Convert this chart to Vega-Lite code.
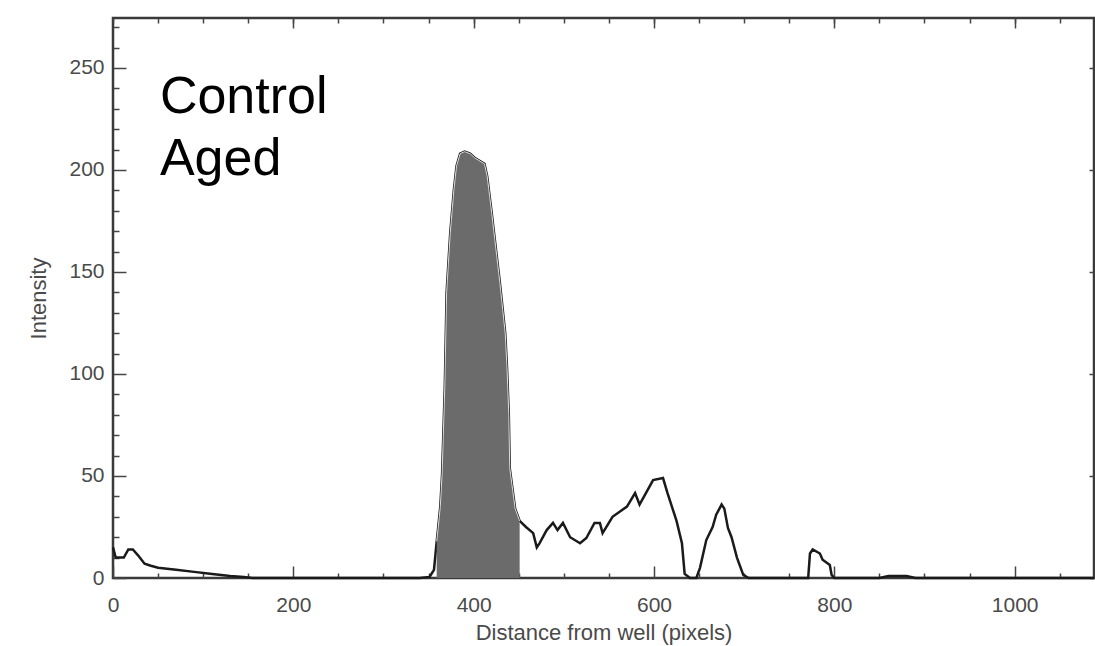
{
  "$schema": "https://vega.github.io/schema/vega-lite/v6.json",
  "width": 981,
  "height": 560,
  "autosize": {"type": "none"},
  "padding": {"left": 113, "top": 18, "right": 1, "bottom": 68},
  "background": "white",
  "config": {
    "view": {"stroke": "#3a3a3a", "strokeWidth": 2.5},
    "axis": {
      "grid": false,
      "domain": false,
      "tickColor": "#444444",
      "tickWidth": 1.5,
      "labelFont": "Liberation Sans",
      "labelColor": "#4a4a4a",
      "labelFontSize": 21,
      "labelFlush": false,
      "titleFont": "Liberation Sans",
      "titleColor": "#4a4a4a",
      "titleFontSize": 22,
      "titleFontWeight": "normal"
    }
  },
  "datasets": {
    "profile": [
      {"x": 0, "y": 15}, {"x": 3, "y": 10}, {"x": 12, "y": 10}, {"x": 17, "y": 14}, {"x": 22, "y": 14},
      {"x": 28, "y": 11}, {"x": 35, "y": 7}, {"x": 42, "y": 6}, {"x": 50, "y": 5}, {"x": 70, "y": 4},
      {"x": 90, "y": 3}, {"x": 110, "y": 2}, {"x": 130, "y": 1}, {"x": 145, "y": 0.5}, {"x": 155, "y": 0},
      {"x": 200, "y": 0}, {"x": 250, "y": 0}, {"x": 300, "y": 0}, {"x": 340, "y": 0}, {"x": 351, "y": 0.5},
      {"x": 356, "y": 4}, {"x": 359, "y": 18}, {"x": 360, "y": 22}, {"x": 363, "y": 35}, {"x": 365, "y": 51},
      {"x": 368, "y": 94}, {"x": 370, "y": 140}, {"x": 374, "y": 169}, {"x": 378, "y": 190}, {"x": 381, "y": 202},
      {"x": 385, "y": 208}, {"x": 390, "y": 209}, {"x": 396, "y": 208}, {"x": 401, "y": 206}, {"x": 412, "y": 203},
      {"x": 415, "y": 197}, {"x": 420, "y": 179}, {"x": 429, "y": 145}, {"x": 435, "y": 120}, {"x": 437, "y": 103},
      {"x": 439, "y": 80}, {"x": 440, "y": 54}, {"x": 446, "y": 34}, {"x": 451, "y": 28}, {"x": 458, "y": 25},
      {"x": 466, "y": 22}, {"x": 470, "y": 15}, {"x": 473, "y": 17}, {"x": 481, "y": 23.5}, {"x": 488, "y": 27},
      {"x": 493, "y": 23.5}, {"x": 499, "y": 27}, {"x": 507, "y": 20}, {"x": 518, "y": 17}, {"x": 525, "y": 19.6},
      {"x": 534, "y": 27}, {"x": 540, "y": 27}, {"x": 543, "y": 22}, {"x": 554, "y": 30}, {"x": 570, "y": 35},
      {"x": 579, "y": 41.6}, {"x": 584, "y": 36}, {"x": 599, "y": 48}, {"x": 610, "y": 49}, {"x": 615, "y": 41.6},
      {"x": 625, "y": 28}, {"x": 631, "y": 17}, {"x": 634, "y": 2}, {"x": 640, "y": 0}, {"x": 647, "y": 0},
      {"x": 651, "y": 5}, {"x": 658, "y": 18.6}, {"x": 665, "y": 25}, {"x": 669, "y": 31}, {"x": 675, "y": 36},
      {"x": 678, "y": 34}, {"x": 682, "y": 24.5}, {"x": 686, "y": 20}, {"x": 692, "y": 10}, {"x": 699, "y": 1.5},
      {"x": 705, "y": 0}, {"x": 771, "y": 0}, {"x": 773, "y": 12}, {"x": 776, "y": 14}, {"x": 784, "y": 12},
      {"x": 787, "y": 9}, {"x": 795, "y": 6.4}, {"x": 797, "y": 1.5}, {"x": 800, "y": 0}, {"x": 850, "y": 0},
      {"x": 860, "y": 1}, {"x": 880, "y": 1}, {"x": 890, "y": 0}, {"x": 1088, "y": 0}
    ],
    "band": [
      {"x": 359, "y": 18}, {"x": 360, "y": 22}, {"x": 363, "y": 35}, {"x": 365, "y": 51},
      {"x": 368, "y": 94}, {"x": 370, "y": 140}, {"x": 374, "y": 169}, {"x": 378, "y": 190}, {"x": 381, "y": 202},
      {"x": 385, "y": 208}, {"x": 390, "y": 209}, {"x": 396, "y": 208}, {"x": 401, "y": 206}, {"x": 412, "y": 203},
      {"x": 415, "y": 197}, {"x": 420, "y": 179}, {"x": 429, "y": 145}, {"x": 435, "y": 120}, {"x": 437, "y": 103},
      {"x": 439, "y": 80}, {"x": 440, "y": 54}, {"x": 446, "y": 34}, {"x": 451, "y": 28}
    ],
    "notes": [
      {"tx": 52, "ty": 228, "label": "Control"},
      {"tx": 52, "ty": 197.5, "label": "Aged"}
    ]
  },
  "layer": [
    {
      "data": {"name": "profile"},
      "mark": {"type": "line", "color": "#1a1a1a", "strokeWidth": 2.5, "interpolate": "linear"},
      "encoding": {
        "x": {"field": "x", "type": "quantitative", "scale": {"domain": [0, 1088], "nice": false, "zero": false},
          "axis": {"orient": "bottom", "values": [0, 200, 400, 600, 800, 1000], "format": "d", "tickSize": -12, "labelPadding": 28, "title": "Distance from well (pixels)", "titlePadding": 7}},
        "y": {"field": "y", "type": "quantitative", "scale": {"domain": [0, 274.5], "nice": false},
          "axis": {"orient": "left", "values": [0, 50, 100, 150, 200, 250], "tickSize": -13, "labelPadding": 22, "title": "Intensity", "titlePadding": 18}}
      }
    },
    {
      "data": {"name": "band"},
      "mark": {"type": "area", "color": "#6b6b6b", "opacity": 1, "interpolate": "linear"},
      "encoding": {
        "x": {"field": "x", "type": "quantitative", "scale": {"domain": [0, 1088], "nice": false, "zero": false},
          "axis": {"orient": "top", "values": [0, 50, 100, 150, 200, 250, 300, 350, 400, 450, 500, 550, 600, 650, 700, 750, 800, 850, 900, 950, 1000, 1050], "tickSize": -5, "labels": false, "title": null}},
        "y": {"field": "y", "type": "quantitative", "scale": {"domain": [0, 274.5], "nice": false},
          "axis": {"orient": "right", "values": [0, 50, 100, 150, 200, 250], "tickSize": -5, "labels": false, "title": null}}
      }
    },
    {
      "data": {"name": "band"},
      "mark": {"type": "line", "color": "#dddddd", "strokeWidth": 1, "interpolate": "linear"},
      "encoding": {
        "x": {"field": "x", "type": "quantitative", "scale": {"domain": [0, 1088], "nice": false, "zero": false},
          "axis": {"orient": "bottom", "values": [50, 100, 150, 250, 300, 350, 450, 500, 550, 650, 700, 750, 850, 900, 950, 1050], "tickSize": -5, "labels": false, "title": null}},
        "y": {"field": "y", "type": "quantitative", "scale": {"domain": [0, 274.5], "nice": false},
          "axis": {"orient": "left", "values": [10, 20, 30, 40, 60, 70, 80, 90, 110, 120, 130, 140, 160, 170, 180, 190, 210, 220, 230, 240, 260, 270], "tickSize": -6, "labels": false, "title": null}}
      }
    },
    {
      "data": {"name": "notes"},
      "mark": {"type": "text", "align": "left", "baseline": "alphabetic", "font": "Liberation Sans", "fontSize": 52, "color": "#000000"},
      "encoding": {
        "x": {"field": "tx", "type": "quantitative", "scale": {"domain": [0, 1088], "nice": false, "zero": false},
          "axis": {"orient": "top", "values": [200, 400, 600, 800, 1000], "tickSize": -10, "labels": false, "title": null}},
        "y": {"field": "ty", "type": "quantitative", "scale": {"domain": [0, 274.5], "nice": false}, "axis": null},
        "text": {"field": "label", "type": "nominal"}
      }
    }
  ],
  "resolve": {"axis": {"x": "independent", "y": "independent"}}
}
